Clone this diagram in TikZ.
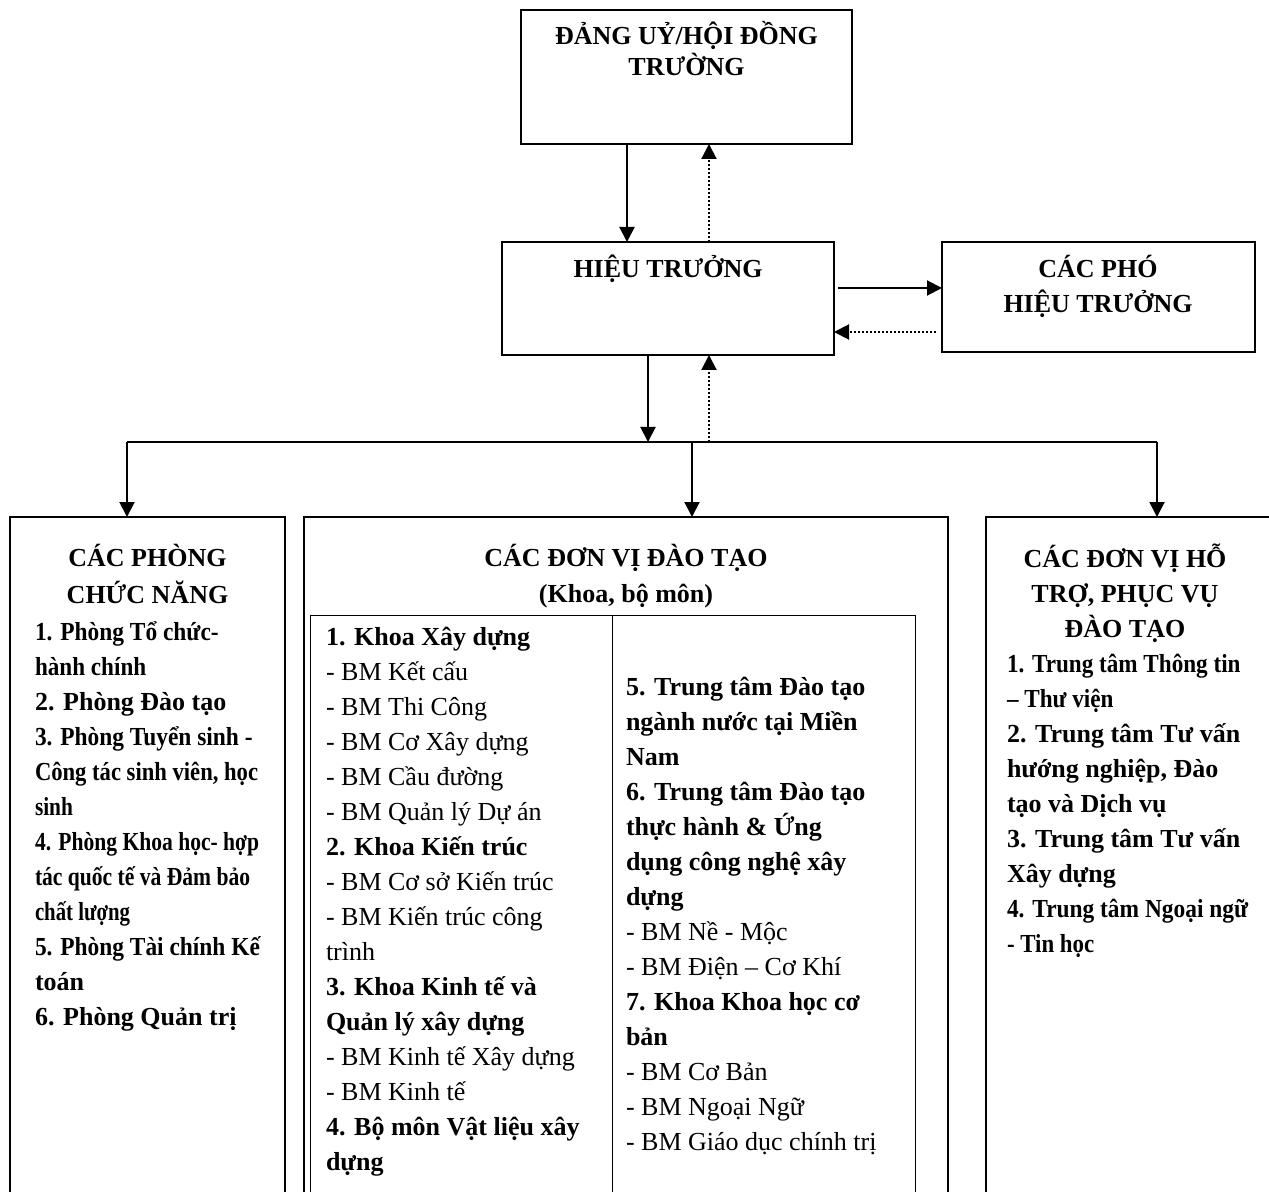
\documentclass[tikz,border=0pt]{standalone}
\usepackage{fontspec}
\setmainfont{Liberation Serif}
\usetikzlibrary{arrows.meta}
\newcommand{\hep}[2]{\scalebox{#1}[1]{#2}}
\newcommand{\st}{\rule{0pt}{13pt}}
\begin{document}
\begin{tikzpicture}[x=0.5pt,y=-0.5pt]
\tikzstyle{every node}+=[inner sep=0pt,outer sep=0pt]
\tikzstyle{box}=[draw,line width=0.9pt]
\tikzstyle{thinbox}=[draw,line width=0.5pt]
\tikzstyle{hdr}=[anchor=north,align=center,font=\bfseries\fontsize{13}{17.5}\selectfont]
\tikzstyle{lst}=[anchor=north west,align=left,font=\fontsize{13}{17.5}\selectfont]
\tikzstyle{solidArr}=[line width=1pt,-{Triangle[length=7.5pt,width=7.5pt]}]
\tikzstyle{dotArr}=[line width=1pt,dash pattern=on 1pt off 1pt,-{Triangle[length=7.5pt,width=7.5pt]}]
\useasboundingbox (0,0) rectangle (1269,1192);
\clip (0,0) rectangle (1269,1192);
% top level
\node[box,minimum width=165.5pt,minimum height=67pt] (dangUy) at (686.5,77) {};
\node[hdr,font=\bfseries\fontsize{13}{15.5}\selectfont] (dangUyTxt) at (686.5,19) {\st ĐẢNG UỶ/HỘI ĐỒNG\\TRƯỜNG};
\node[box,minimum width=166pt,minimum height=56.5pt] (hieuTruong) at (668,298.5) {};
\node[hdr] (hieuTruongTxt) at (668,252) {\st HIỆU TRƯỞNG};
\node[box,minimum width=156.5pt,minimum height=55pt] (phoHT) at (1098.5,297) {};
\node[hdr] (phoHTTxt) at (1098,252) {\st CÁC PHÓ\\HIỆU TRƯỞNG};
% lower boxes
\node[box,minimum width=137.5pt,minimum height=346.5pt] (phongCN) at (147.5,863.5) {};
\node[box,minimum width=322pt,minimum height=346.5pt] (donViDT) at (626,863.5) {};
\node[box,minimum width=152pt,minimum height=346.5pt] (hoTro) at (1138,863.5) {};
\node[thinbox,minimum width=151pt,minimum height=297.5pt] (bangTrai) at (461,912.5) {};
\node[thinbox,minimum width=151.5pt,minimum height=297.5pt] (bangPhai) at (763.5,912.5) {};
% connectors
\draw[solidArr] (627,0 |- dangUy.south) -- (627,0 |- hieuTruong.north);
\draw[dotArr] (709,0 |- hieuTruong.north) -- (709,0 |- dangUy.south);
\coordinate (htPho) at (838,288);
\coordinate (phoHt) at (936,332);
\draw[solidArr] (htPho) -- (htPho -| phoHT.west);
\draw[dotArr] (phoHt) -- (phoHt -| hieuTruong.east);
\coordinate (busL) at (127,442);
\coordinate (busR) at (1157,442);
\coordinate (busM) at (692,442);
\coordinate (busHT) at (648,442);
\coordinate (busDot) at (709,442);
\draw[line width=1pt] (busL) -- (busR);
\draw[solidArr] (busHT |- hieuTruong.south) -- (busHT);
\draw[dotArr] (busDot) -- (busDot |- hieuTruong.south);
\draw[solidArr] (busL) -- (busL |- phongCN.north);
\draw[solidArr] (busM) -- (busM |- donViDT.north);
\draw[solidArr] (busR) -- (busR |- hoTro.north);
% texts of the left box
\node[hdr,font=\bfseries\fontsize{13}{18}\selectfont] (phongCNTxt) at (147.5,541) {\st CÁC PHÒNG\\CHỨC NĂNG};
\node[lst,font=\bfseries\fontsize{13}{17.5}\selectfont] (phongCNList) at (35,614) {\st\hep{0.9}{1. Phòng Tổ chức-}\\
\hep{0.89}{hành chính}\\
2. Phòng Đào tạo\\
\hep{0.9}{3. Phòng Tuyển sinh -}\\
\hep{0.87}{Công tác sinh viên, học}\\
\hep{0.82}{sinh}\\
\hep{0.83}{4. Phòng Khoa học- hợp}\\
\hep{0.83}{tác quốc tế và Đảm bảo}\\
\hep{0.8}{chất lượng}\\
\hep{0.9}{5. Phòng Tài chính Kế}\\
toán\\
6. Phòng Quản trị};
% texts of the middle box
\node[hdr] (donViDTTxt) at (626,541) {\st CÁC ĐƠN VỊ ĐÀO TẠO\\(Khoa, bộ môn)};
\node[lst] (bangTraiTxt) at (326,619) {\st\textbf{1. Khoa Xây dựng}\\
- BM Kết cấu\\
- BM Thi Công\\
- BM Cơ Xây dựng\\
- BM Cầu đường\\
- BM Quản lý Dự án\\
\textbf{2. Khoa Kiến trúc}\\
- BM Cơ sở Kiến trúc\\
- BM Kiến trúc công\\
trình\\
\textbf{3. Khoa Kinh tế và}\\
\textbf{Quản lý xây dựng}\\
- BM Kinh tế Xây dựng\\
- BM Kinh tế\\
\textbf{4. Bộ môn Vật liệu xây}\\
\textbf{dựng}};
\node[lst] (bangPhaiTxt) at (626,669) {\st\textbf{5. Trung tâm Đào tạo}\\
\textbf{ngành nước tại Miền}\\
\textbf{Nam}\\
\textbf{6. Trung tâm Đào tạo}\\
\textbf{thực hành \& Ứng}\\
\textbf{dụng công nghệ xây}\\
\textbf{dựng}\\
- BM Nề - Mộc\\
- BM Điện – Cơ Khí\\
\textbf{7. Khoa Khoa học cơ}\\
\textbf{bản}\\
- BM Cơ Bản\\
- BM Ngoại Ngữ\\
- BM Giáo dục chính trị};
% texts of the right box
\node[hdr] (hoTroTxt) at (1125,541) {\st CÁC ĐƠN VỊ HỖ\\TRỢ, PHỤC VỤ\\ĐÀO TẠO};
\node[lst,font=\bfseries\fontsize{13}{17.5}\selectfont] (hoTroList) at (1007,646) {\st\hep{0.89}{1. Trung tâm Thông tin}\\
\hep{0.89}{– Thư viện}\\
2. Trung tâm Tư vấn\\
hướng nghiệp, Đào\\
tạo và Dịch vụ\\
3. Trung tâm Tư vấn\\
Xây dựng\\
\hep{0.9}{4. Trung tâm Ngoại ngữ}\\
\hep{0.88}{- Tin học}};
\end{tikzpicture}
\end{document}
